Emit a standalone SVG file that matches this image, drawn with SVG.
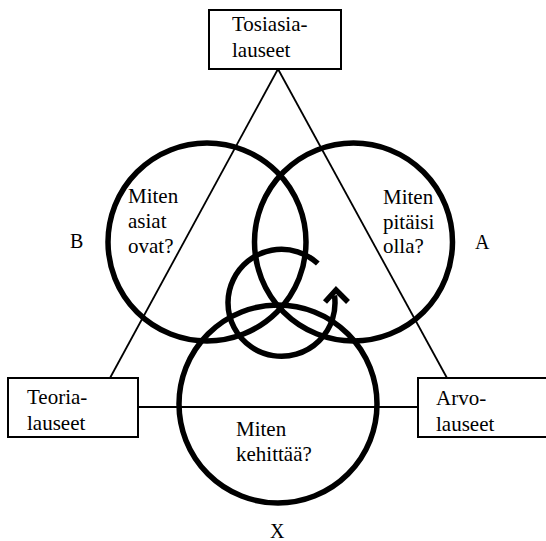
<svg xmlns="http://www.w3.org/2000/svg" width="546" height="541" viewBox="0 0 546 541">
<style>
.t{font-family:"Liberation Serif","Times New Roman",serif;font-size:21px;fill:#000}
.lbl{font-family:"Liberation Serif","Times New Roman",serif;font-size:20px;fill:#000}
.box{fill:#fff;stroke:#000;stroke-width:2}
.ln{fill:none;stroke:#000;stroke-width:1.8}
.circ{fill:none;stroke:#000;stroke-width:5.5}
</style>
<rect width="546" height="541" fill="#fff"/>
<g id="connectors">
<line class="ln" x1="278" y1="69" x2="110" y2="378"/>
<line class="ln" x1="278" y1="69" x2="447" y2="378"/>
<line class="ln" x1="138" y1="407" x2="418" y2="407"/>
</g>
<g id="circle-B">
<circle class="circ" cx="207" cy="242" r="99"/>
<text class="t" x="128" y="203">Miten</text>
<text class="t" x="128" y="228">asiat</text>
<text class="t" x="128" y="253">ovat?</text>
</g>
<g id="circle-A">
<circle class="circ" cx="353.5" cy="242" r="99"/>
<text class="t" x="383" y="204">Miten</text>
<text class="t" x="383" y="229">pitäisi</text>
<text class="t" x="383" y="253">olla?</text>
</g>
<g id="circle-X">
<circle class="circ" cx="278" cy="404" r="99"/>
<text class="t" x="236" y="436">Miten</text>
<text class="t" x="236" y="461">kehittää?</text>
</g>
<g id="cycle-arrow">
<path class="circ" d="M317.8 263.5 A53.5 53.5 0 1 0 334.5 295.5"/>
<polyline class="circ" points="325,302 336,290 348,302" stroke-linejoin="miter"/>
</g>
<g id="box-tosiasia">
<rect class="box" x="209" y="10" width="132" height="59"/>
<text class="t" x="232" y="31">Tosiasia-</text>
<text class="t" x="232" y="57">lauseet</text>
</g>
<g id="box-teoria">
<rect class="box" x="8" y="378" width="130" height="59"/>
<text class="t" x="27" y="404">Teoria-</text>
<text class="t" x="27" y="430">lauseet</text>
</g>
<g id="box-arvo">
<rect class="box" x="418" y="378" width="140" height="59"/>
<text class="t" x="436" y="405">Arvo-</text>
<text class="t" x="436" y="431">lauseet</text>
</g>
<g id="labels">
<text class="lbl" x="70" y="248">B</text>
<text class="lbl" x="475" y="249">A</text>
<text class="lbl" x="270" y="538">X</text>
</g>
</svg>
